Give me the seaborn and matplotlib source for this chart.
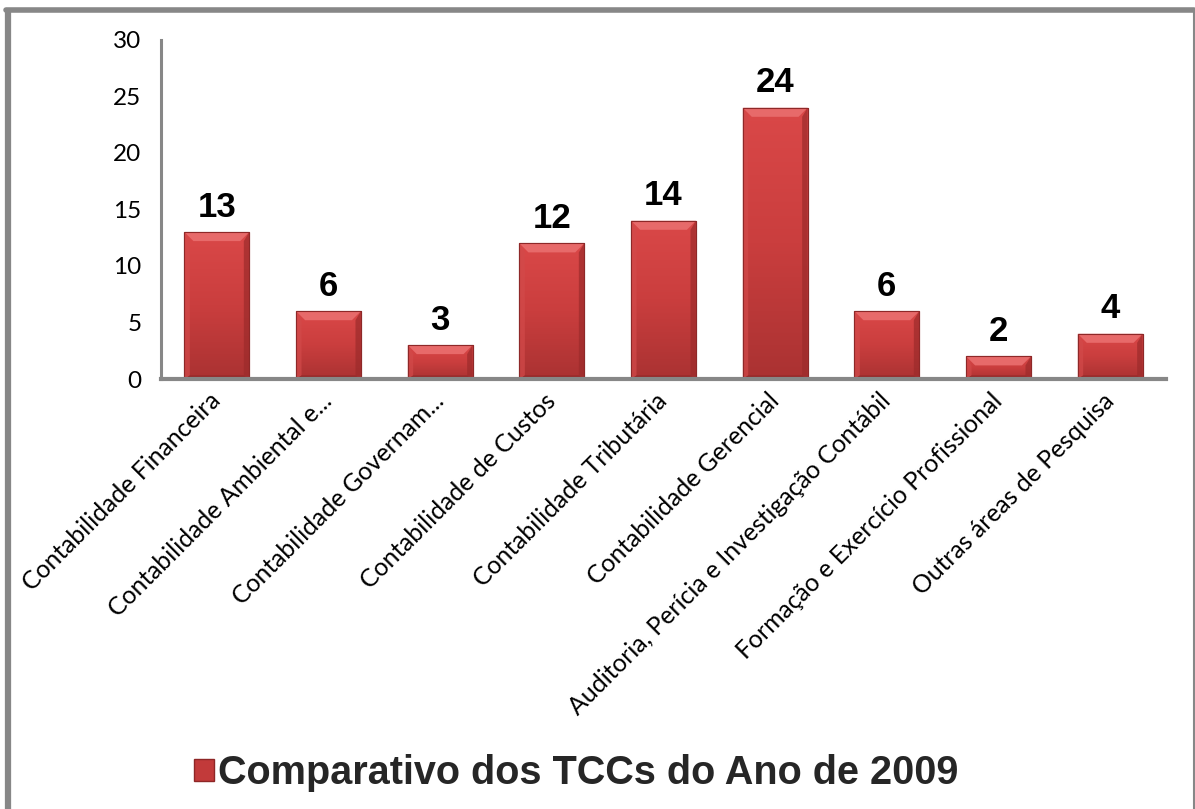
import numpy as np
import pandas as pd
import matplotlib
matplotlib.use("Agg")
import matplotlib.pyplot as plt
import seaborn as sns
from matplotlib.patches import Patch, Polygon
from matplotlib.lines import Line2D
from matplotlib.colors import LinearSegmentedColormap

# Research areas of the final papers (TCCs) and number of papers in each
categories = [
    "Contabilidade Financeira",
    "Contabilidade Ambiental e...",
    "Contabilidade Governam...",
    "Contabilidade de Custos",
    "Contabilidade Tributária",
    "Contabilidade Gerencial",
    "Auditoria, Perícia e Investigação Contábil",
    "Formação e Exercício Profissional",
    "Outras áreas de Pesquisa",
]
counts = [13, 6, 3, 12, 14, 24, 6, 2, 4]
series_name = "Comparativo dos TCCs do Ano de 2009"
y_ticks = [0, 5, 10, 15, 20, 25, 30]

sns.set_theme(style="white")
plt.rcParams["font.family"] = ["Lato", "DejaVu Sans"]

W, H = 1195, 809
fig = plt.figure(figsize=(W / 100, H / 100), dpi=100)
fig.patch.set_facecolor("white")
ax = fig.add_axes([161 / W, 1 - 379 / H, (1166 - 161) / W, (379 - 40) / H])

df = pd.DataFrame({"area": categories, "tccs": counts})
sns.barplot(data=df, x="area", y="tccs", order=categories, color="#CC3D3D",
            saturation=1, width=0.58, ax=ax)

ax.set_xlim(-0.5, len(categories) - 0.5)
ax.set_ylim(0, 30)
ax.set_yticks(y_ticks)
ax.set_xlabel("")
ax.set_ylabel("")

# data units per pixel, used for the bevel depth
ax_w_px = (1166 - 161)
ax_h_px = (379 - 40)
ux = (ax.get_xlim()[1] - ax.get_xlim()[0]) / ax_w_px
uy = (ax.get_ylim()[1] - ax.get_ylim()[0]) / ax_h_px
d = 9
dx, dy = d * ux, d * uy

face_cmap = LinearSegmentedColormap.from_list("bar_face", ["#AA3232", "#CA3E3E", "#DA4848"])
grad = np.linspace(0, 1, 256).reshape(-1, 1)

for p in ax.patches:
    x0, w, h = p.get_x(), p.get_width(), p.get_height()
    p.set_edgecolor("#8E2828")
    p.set_linewidth(0.8)
    im = ax.imshow(grad, cmap=face_cmap, origin="lower", aspect="auto",
                   extent=[x0, x0 + w, 0, h], zorder=p.get_zorder() + 0.1,
                   interpolation="bilinear")
    im.set_clip_path(p)
    z = p.get_zorder() + 0.2
    top = Polygon([(x0, h), (x0 + w, h), (x0 + w - dx, h - dy), (x0 + dx, h - dy)],
                  closed=True, facecolor="#E76A6A", edgecolor="none", zorder=z)
    left = Polygon([(x0, 0), (x0, h), (x0 + dx * 0.6, h - dy), (x0 + dx * 0.6, dy * 0.4)],
                   closed=True, facecolor="#D24A4A", edgecolor="none", alpha=0.7, zorder=z)
    right = Polygon([(x0 + w, 0), (x0 + w, h), (x0 + w - dx * 0.6, h - dy), (x0 + w - dx * 0.6, dy * 0.4)],
                    closed=True, facecolor="#9C2B2B", edgecolor="none", alpha=0.7, zorder=z)
    bottom = Polygon([(x0, 0), (x0 + w, 0), (x0 + w - dx * 0.6, dy * 0.4), (x0 + dx * 0.6, dy * 0.4)],
                     closed=True, facecolor="#8E2626", edgecolor="none", alpha=0.7, zorder=z)
    for poly in (top, left, right, bottom):
        ax.add_patch(poly)
    outline = Polygon([(x0, 0), (x0, h), (x0 + w, h), (x0 + w, 0)], closed=True,
                      facecolor="none", edgecolor="#8E2828", linewidth=0.8, zorder=z + 0.1)
    ax.add_patch(outline)

ax.bar_label(ax.containers[0], padding=6, fontsize=25, fontweight="bold",
             family=["Liberation Sans", "DejaVu Sans"], color="black")

ax.tick_params(axis="y", length=0, pad=14, labelsize=17.5, labelcolor="black")
ax.tick_params(axis="x", length=0, pad=13, labelsize=17.8, labelcolor="black")
plt.setp(ax.get_xticklabels(), rotation=45, ha="right", va="center",
         rotation_mode="anchor")

for side in ("top", "right"):
    ax.spines[side].set_visible(False)
ax.spines["left"].set_color("#878787")
ax.spines["left"].set_linewidth(2.2)
ax.spines["bottom"].set_color("#878787")
ax.spines["bottom"].set_linewidth(3)
ax.spines["bottom"].set_zorder(10)

# chart frame
frame_col = "#878787"
fig.add_artist(Line2D([8 / W, 8 / W], [0, 1 - 12 / H], color=frame_col, lw=4.5,
                      transform=fig.transFigure))
fig.add_artist(Line2D([6 / W, 1194 / W], [1 - 10 / H, 1 - 10 / H], color=frame_col, lw=4,
                      transform=fig.transFigure))
fig.add_artist(Line2D([1193.5 / W, 1193.5 / W], [0, 1 - 10 / H], color=frame_col, lw=1.5,
                      transform=fig.transFigure))

fig.legend(handles=[Patch(facecolor="#C23A3A", edgecolor="#8E2626")],
           labels=[series_name], loc="center",
           bbox_to_anchor=(0.482, 1 - 773 / H), frameon=False,
           prop={"family": ["Liberation Sans", "DejaVu Sans"], "weight": "bold", "size": 28.5},
           handlelength=0.5, handleheight=0.5, handletextpad=0.1)

fig.savefig("out.png", dpi=100)
